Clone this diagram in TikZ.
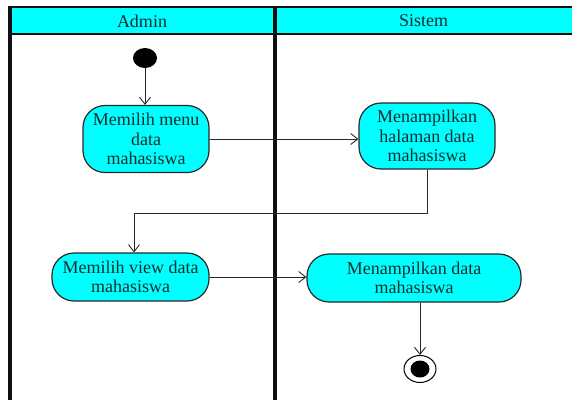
\documentclass[tikz,border=0pt]{standalone}
\usepackage{fontspec}
\setmainfont{Liberation Serif}
\usetikzlibrary{arrows.meta,shapes.geometric}
\definecolor{lanecyan}{RGB}{0,255,255}
\definecolor{inkline}{RGB}{40,40,40}
\definecolor{inktext}{RGB}{20,45,45}
\definecolor{laneline}{RGB}{15,15,20}

\begin{document}
\begin{tikzpicture}[x=1pt,y=-1pt,
  action/.style={draw=inkline, line width=1.2pt, fill=lanecyan, rounded corners=22pt,
    inner sep=0pt, align=center, text=inktext, font=\fontsize{18}{19.5}\selectfont},
  lanetitle/.style={inner sep=0pt, text=inktext, font=\fontsize{18}{19.5}\selectfont},
  flow/.style={draw=inkline, line width=0.9pt,
    -{Straight Barb[length=7pt,width=11pt,line width=0.9pt]}},
  initial/.style={ellipse, fill=black, minimum width=24pt, minimum height=20pt, inner sep=0pt},
  finalring/.style={ellipse, draw=black, line width=1pt, fill=white,
    minimum width=32pt, minimum height=27pt, inner sep=0pt},
  finalcore/.style={ellipse, fill=black, minimum width=19pt, minimum height=17pt, inner sep=0pt}
]
\useasboundingbox (0,0) rectangle (572,400);

% swimlane header band
\fill[lanecyan] (10,7) rectangle (572,34);
\draw[laneline, line width=2pt] (10,7) -- (572,7);
\draw[laneline, line width=2pt] (10,34) -- (572,34);
\node[lanetitle] (admin) at (142,21) {Admin};
\node[lanetitle] (sistem) at (423.5,21) {Sistem};

% lane borders
\draw[laneline, line width=3.5pt] (10,6) -- (10,400);
\draw[laneline, line width=4.5pt] (275,6) -- (275,400);

% activities
\node[initial] (start) at (145,58) {};
\node[action, minimum width=126pt, minimum height=67pt] (n1) at (146,139)
  {Memilih menu\\data\\mahasiswa};
\node[action, minimum width=136pt, minimum height=66pt] (n2) at (427,136)
  {Menampilkan\\halaman data\\mahasiswa};
\node[action, minimum width=157pt, minimum height=48pt] (n3) at (130.5,277)
  {Memilih view data\\mahasiswa};
\node[action, minimum width=214pt, minimum height=48pt] (n4) at (414,278)
  {Menampilkan data\\mahasiswa};
\node[finalring] (end) at (420,369) {};
\node[finalcore] (endcore) at (end) {};

% control flow
\coordinate (elbow) at (134,213);
\draw[flow] (start.south) -- (start.south |- n1.north);
\draw[flow] (n1.east) -- (n1.east -| n2.west);
\draw[flow] (n2.south) |- (elbow) -- (elbow |- n3.north);
\draw[flow] (n3.east) -- (n3.east -| n4.west);
\draw[flow] (end.north |- n4.south) -- (end.north);
\end{tikzpicture}
\end{document}
